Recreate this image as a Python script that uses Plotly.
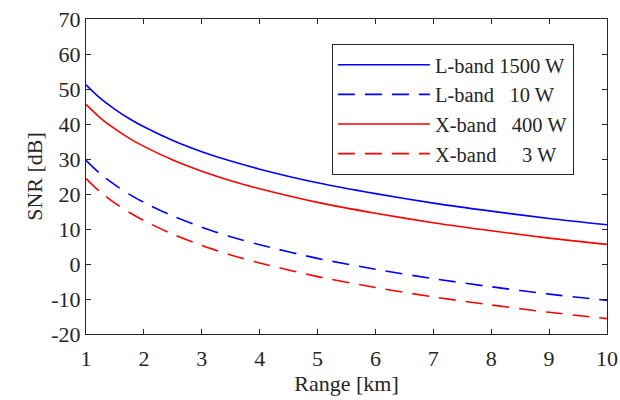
import plotly.graph_objects as go

range_km = [1, 1.25, 1.5, 1.75, 2, 2.5, 3, 3.5, 4, 5, 6, 7, 8, 9, 10]
snr_L1500 = [51.2, 47.3, 44.2, 41.5, 39.2, 35.3, 32.1, 29.4, 27.1, 23.2, 20.1, 17.4, 15.1, 13.0, 11.2]
snr_L10 = [29.6, 25.7, 22.6, 19.9, 17.6, 13.7, 10.5, 7.8, 5.5, 1.6, -1.5, -4.2, -6.5, -8.6, -10.4]
snr_X400 = [45.6, 41.7, 38.6, 35.9, 33.6, 29.7, 26.5, 23.8, 21.5, 17.6, 14.5, 11.8, 9.5, 7.4, 5.6]
snr_X3 = [24.4, 20.5, 17.4, 14.7, 12.4, 8.5, 5.3, 2.6, 0.3, -3.6, -6.7, -9.4, -11.7, -13.8, -15.6]
names = ["L-band 1500 W", "L-band\u00a0\u200710 W", "X-band\u00a0\u2007400 W", "X-band\u00a0\u2007\u20073 W"]
x_ticks = list(range(1, 11))
y_ticks = list(range(-20, 71, 10))
y_ticktext = [str(v) for v in y_ticks]

FONT = "Liberation Serif"
TXT = "#262626"

fig = go.Figure()
series = [(snr_L1500, "#0000ff", "solid"), (snr_L10, "#0000ff", "17px,10px"),
          (snr_X400, "#ff0000", "solid"), (snr_X3, "#ff0000", "17px,10px")]
for i, (vals, col, dash) in enumerate(series):
    fig.add_trace(go.Scatter(x=range_km, y=vals, mode="lines", name=names[i],
                             line=dict(color=col, width=1.6, dash=dash, shape="spline", smoothing=0.8)))

axis_common = dict(showline=True, mirror="ticks", linecolor=TXT, linewidth=1,
                   ticks="inside", ticklen=5, tickcolor=TXT, showgrid=False, zeroline=False,
                   automargin=False, ticklabeloverflow="allow",
                   tickfont=dict(family=FONT, size=22, color=TXT))
fig.update_xaxes(range=[1, 10], tickvals=x_ticks, ticklabelstandoff=5,
                 title=dict(text="Range [km]", font=dict(family=FONT, size=22, color=TXT), standoff=0),
                 **axis_common)
fig.update_yaxes(range=[-20, 70], tickvals=y_ticks, ticktext=y_ticktext,
                 title=dict(text="SNR [dB]", font=dict(family=FONT, size=22, color=TXT), standoff=2),
                 **axis_common)

fig.update_layout(
    width=620, height=400,
    margin=dict(l=86, r=13, t=19, b=66),
    font=dict(family=FONT, color=TXT),
    paper_bgcolor="white", plot_bgcolor="white",
    showlegend=True,
    legend=dict(x=0.472, y=0.921, xanchor="left", yanchor="top",
                bordercolor=TXT, borderwidth=1, bgcolor="white",
                font=dict(family=FONT, size=20.5, color=TXT),
                itemwidth=92, traceorder="normal"),
)
fig.write_html("out.html", config={"displayModeBar": False},
               post_script="document.body.style.margin='0';document.body.style.overflow='hidden';")
